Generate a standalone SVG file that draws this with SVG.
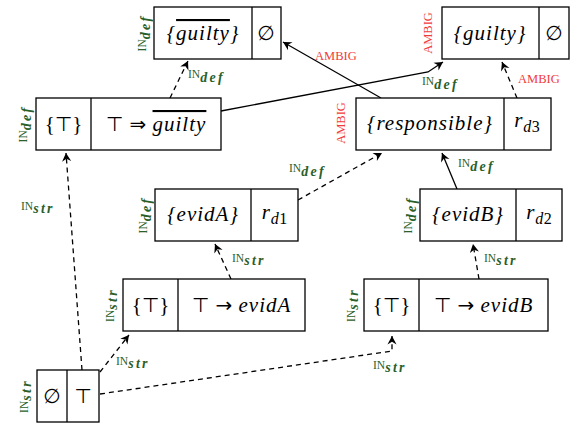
<svg xmlns="http://www.w3.org/2000/svg" width="576" height="424" viewBox="0 0 576 424">
<defs>
<marker id="ah" markerUnits="userSpaceOnUse" markerWidth="12" markerHeight="12" viewBox="-8 -5 10 10" refX="0" refY="0" orient="auto">
<path d="M0,0 L-7,-3.8 L-4.8,0 L-7,3.8 Z" fill="#000"/>
</marker>
</defs>
<style>
rect.b{fill:#fff;stroke:#000;stroke-width:1.3}
line.d{stroke:#000;stroke-width:1.3}
.m{font-family:"Liberation Serif",serif;font-size:21px;font-style:italic;letter-spacing:1px;fill:#000}
.s{font-family:"DejaVu Sans",sans-serif;font-style:normal;letter-spacing:0;font-size:20px}
.up{font-style:normal;letter-spacing:0}
.sb{font-size:16px;letter-spacing:0.5px}
.ol{text-decoration:overline}
.c{stroke:#000;stroke-width:1.3;fill:none}
.dash{stroke-dasharray:5 4}
.g{font-family:"Liberation Serif",serif;font-size:11.5px;fill:#2a602a}
.g .sub{font-size:14px;font-style:italic;font-weight:bold;letter-spacing:2.3px}
.r{font-family:"Liberation Serif",serif;font-size:12.5px;fill:#f23a3a}
</style>

<g id="connectors">
<path class="c dash" d="M170,98 L188,61" marker-end="url(#ah)"/>
<path class="c" d="M221,111 L428,72 L443,62" marker-end="url(#ah)"/>
<path class="c" d="M381,98 L283,42" marker-end="url(#ah)"/>
<path class="c dash" d="M517,98 L502,62" marker-end="url(#ah)"/>
<path class="c dash" d="M82,370 L66,153" marker-end="url(#ah)"/>
<path class="c dash" d="M100,372 L129,335" marker-end="url(#ah)"/>
<path class="c dash" d="M100,394 L392,351 L392,336" marker-end="url(#ah)"/>
<path class="c dash" d="M231,279 L215,244" marker-end="url(#ah)"/>
<path class="c dash" d="M298,200 L382,153" marker-end="url(#ah)"/>
<path class="c dash" d="M479,279 L473,244" marker-end="url(#ah)"/>
<path class="c" d="M457,189 L442,153" marker-end="url(#ah)"/>
<text class="g" x="188" y="78">IN<tspan class="sub" dy="4">def</tspan></text>
<text class="g" x="422" y="85">IN<tspan class="sub" dy="4">def</tspan></text>
<text class="r" x="315" y="60">AMBIG</text>
<text class="r" x="518" y="83">AMBIG</text>
<text class="g" x="21" y="210">IN<tspan class="sub" dy="3">str</tspan></text>
<text class="g" x="116" y="365">IN<tspan class="sub" dy="3">str</tspan></text>
<text class="g" x="373" y="369">IN<tspan class="sub" dy="3">str</tspan></text>
<text class="g" x="232" y="262">IN<tspan class="sub" dy="3">str</tspan></text>
<text class="g" x="289" y="172">IN<tspan class="sub" dy="4">def</tspan></text>
<text class="g" x="484" y="262">IN<tspan class="sub" dy="3">str</tspan></text>
<text class="g" x="458" y="167">IN<tspan class="sub" dy="4">def</tspan></text>
</g>

<g id="n1">
<rect class="b" x="154" y="7" width="127" height="52"/>
<line class="d" x1="252" y1="7" x2="252" y2="59"/>
<text class="m" x="203" y="40" text-anchor="middle">{<tspan class="ol">guilty</tspan>}</text>
<text class="m" x="266" y="40" text-anchor="middle"><tspan class="s">∅</tspan></text>
<text class="g" transform="translate(146,33) rotate(-90)" text-anchor="middle">IN<tspan class="sub" dy="4">def</tspan></text>
</g>

<g id="n2">
<rect class="b" x="36" y="98" width="185" height="52"/>
<line class="d" x1="91" y1="98" x2="91" y2="150"/>
<text class="m" x="63.5" y="131" text-anchor="middle"><tspan class="up">{</tspan><tspan class="s">⊤</tspan><tspan class="up">}</tspan></text>
<text class="m" x="156" y="131" text-anchor="middle"><tspan class="s">⊤ ⇒ </tspan><tspan class="ol">guilty</tspan></text>
<text class="g" transform="translate(27,124) rotate(-90)" text-anchor="middle">IN<tspan class="sub" dy="4">def</tspan></text>
</g>

<g id="n3">
<rect class="b" x="442" y="7" width="127" height="52"/>
<line class="d" x1="539" y1="7" x2="539" y2="59"/>
<text class="m" x="490" y="40" text-anchor="middle">{guilty}</text>
<text class="m" x="554" y="40" text-anchor="middle"><tspan class="s">∅</tspan></text>
<text class="r" transform="translate(432,33) rotate(-90)" text-anchor="middle">AMBIG</text>
</g>

<g id="n4">
<rect class="b" x="356" y="98" width="195" height="52"/>
<line class="d" x1="504" y1="98" x2="504" y2="150"/>
<text class="m" x="430" y="130" text-anchor="middle">{responsible}</text>
<text class="m" x="527" y="127" text-anchor="middle">r<tspan class="sb" dy="5">d<tspan class="up">3</tspan></tspan></text>
<text class="r" transform="translate(345,123) rotate(-90)" text-anchor="middle">AMBIG</text>
</g>

<g id="n5">
<rect class="b" x="155" y="189" width="143" height="52"/>
<line class="d" x1="251" y1="189" x2="251" y2="241"/>
<text class="m" x="203" y="221" text-anchor="middle">{evidA}</text>
<text class="m" x="274.5" y="219" text-anchor="middle">r<tspan class="sb" dy="5">d<tspan class="up">1</tspan></tspan></text>
<text class="g" transform="translate(147,215) rotate(-90)" text-anchor="middle">IN<tspan class="sub" dy="4">def</tspan></text>
</g>

<g id="n6">
<rect class="b" x="420" y="189" width="142" height="52"/>
<line class="d" x1="516" y1="189" x2="516" y2="241"/>
<text class="m" x="468" y="221" text-anchor="middle">{evidB}</text>
<text class="m" x="539" y="219" text-anchor="middle">r<tspan class="sb" dy="5">d<tspan class="up">2</tspan></tspan></text>
<text class="g" transform="translate(412,215) rotate(-90)" text-anchor="middle">IN<tspan class="sub" dy="4">def</tspan></text>
</g>

<g id="n7">
<rect class="b" x="123" y="279" width="182" height="52"/>
<line class="d" x1="178" y1="279" x2="178" y2="331"/>
<text class="m" x="150.5" y="312" text-anchor="middle"><tspan class="up">{</tspan><tspan class="s">⊤</tspan><tspan class="up">}</tspan></text>
<text class="m" x="241.5" y="312" text-anchor="middle"><tspan class="s">⊤ → </tspan>evidA</text>
<text class="g" transform="translate(114,305) rotate(-90)" text-anchor="middle">IN<tspan class="sub" dy="3">str</tspan></text>
</g>

<g id="n8">
<rect class="b" x="364" y="279" width="184" height="52"/>
<line class="d" x1="419" y1="279" x2="419" y2="331"/>
<text class="m" x="391.5" y="312" text-anchor="middle"><tspan class="up">{</tspan><tspan class="s">⊤</tspan><tspan class="up">}</tspan></text>
<text class="m" x="483.5" y="312" text-anchor="middle"><tspan class="s">⊤ → </tspan>evidB</text>
<text class="g" transform="translate(355,305) rotate(-90)" text-anchor="middle">IN<tspan class="sub" dy="3">str</tspan></text>
</g>

<g id="n9">
<rect class="b" x="37" y="370" width="62" height="52"/>
<line class="d" x1="67" y1="370" x2="67" y2="422"/>
<text class="m" x="52" y="403" text-anchor="middle"><tspan class="s">∅</tspan></text>
<text class="m" x="83" y="403" text-anchor="middle"><tspan class="s">⊤</tspan></text>
<text class="g" transform="translate(28,396) rotate(-90)" text-anchor="middle">IN<tspan class="sub" dy="3">str</tspan></text>
</g>
</svg>
